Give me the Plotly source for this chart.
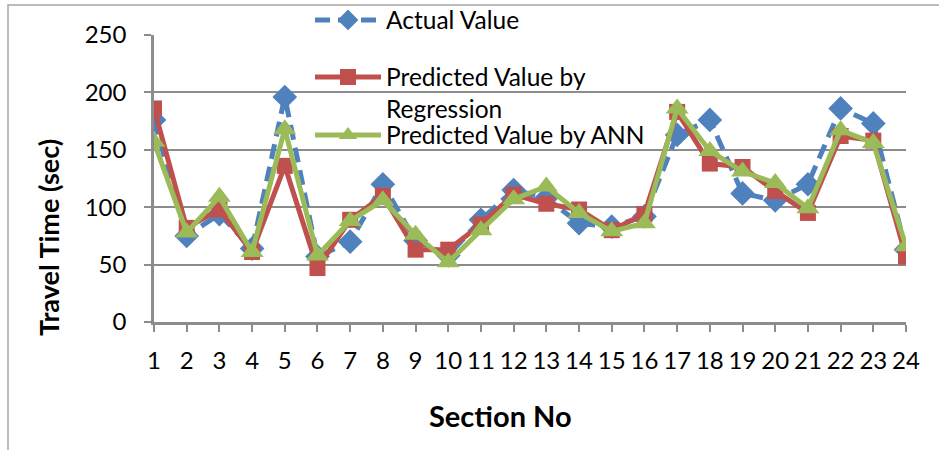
import plotly.graph_objects as go

# Section numbers along the road corridor
sections = list(range(1, 25))

# Observed travel time per section (sec)
actual = [176, 75, 94, 64, 196, 57, 70, 120, 71, 58, 89, 115, 108, 86, 83, 92,
          163, 176, 112, 106, 120, 186, 173, 63]

# Travel time predicted by the regression model (sec)
regression = [186, 82, 98, 61, 136, 47, 89, 110, 63, 63, 85, 111, 103, 98, 80, 94,
              183, 138, 135, 114, 95, 162, 158, 57]

# Travel time predicted by the neural network (sec)
ann = [157, 78, 109, 61, 168, 58, 88, 106, 76, 52, 80, 107, 118, 95, 79, 86,
       186, 149, 131, 121, 99, 167, 156, 66]

y_ticks = [0, 50, 100, 150, 200, 250]

BLUE = "#4F81BD"
RED = "#C0504D"
GREEN = "#9BBB59"
GRID = "#8C8C8C"
FONT = "Lato"

fig = go.Figure()

fig.add_trace(go.Scatter(
    x=sections, y=actual, name="Actual Value", mode="lines+markers",
    line=dict(color=BLUE, width=5, dash="15px,8px"),
    marker=dict(symbol="diamond", size=19, color=BLUE),
    legend="legend",
))
fig.add_trace(go.Scatter(
    x=sections, y=regression, name="Predicted Value by<br>Regression",
    mode="lines+markers",
    line=dict(color=RED, width=5),
    marker=dict(symbol="square", size=16, color=RED),
    legend="legend2",
))
fig.add_trace(go.Scatter(
    x=sections, y=ann, name="Predicted Value by ANN", mode="lines+markers",
    line=dict(color=GREEN, width=5),
    marker=dict(symbol="triangle-up", size=20, color=GREEN),
    legend="legend3",
))

legend_common = dict(
    bgcolor="rgba(0,0,0,0)", font=dict(family=FONT, size=24.5, color="black"),
    xanchor="left", yanchor="middle", itemwidth=66, valign="top",
    tracegroupgap=0,
)
x_leg = (310 - 154) / 752

fig.update_layout(
    width=939, height=450,
    margin=dict(l=154, r=33, t=35, b=128, autoexpand=False),
    paper_bgcolor="white", plot_bgcolor="white",
    font=dict(family=FONT, size=24, color="black"),
    showlegend=True,
    legend=dict(x=x_leg, y=(322 - 20) / 287, **legend_common),
    legend2=dict(x=x_leg, y=(322 - 93) / 287, **legend_common),
    legend3=dict(x=x_leg, y=(322 - 135) / 287, **legend_common),
    xaxis=dict(
        range=[1, 24], tickmode="array", tickvals=sections,
        ticktext=[str(s) for s in sections],
        showgrid=False, zeroline=False,
        showline=True, linecolor=GRID, linewidth=2.5,
        ticks="outside", ticklen=7, tickwidth=2, tickcolor=GRID,
        ticklabelstandoff=8,
        tickfont=dict(family=FONT, size=24, color="black"),
    ),
    yaxis=dict(
        range=[0, 250], tickmode="array", tickvals=y_ticks,
        showgrid=True, gridcolor=GRID, gridwidth=2,
        zeroline=False,
        showline=True, linecolor=GRID, linewidth=2.5,
        ticks="outside", ticklen=7, tickwidth=2, tickcolor=GRID,
        ticklabelstandoff=13,
        tickfont=dict(family=FONT, size=24, color="black"),
    ),
    annotations=[
        dict(text="<b>Travel Time (sec)</b>", textangle=-90,
             xref="paper", yref="paper",
             x=(48 - 154) / 752, y=(322 - 238) / 287,
             xanchor="center", yanchor="middle", showarrow=False,
             font=dict(family=FONT, size=27, color="black")),
        dict(text="<b>Section No</b>",
             xref="paper", yref="paper",
             x=(500 - 154) / 752, y=(322 - 415) / 287,
             xanchor="center", yanchor="middle", showarrow=False,
             font=dict(family=FONT, size=29, color="black")),
    ],
    shapes=[
        dict(type="rect", xref="paper", yref="paper", layer="below",
             x0=(8 - 154) / 752, y0=(322 - 470) / 287,
             x1=(960 - 154) / 752, y1=(322 - 5) / 287,
             line=dict(color="#A6A6A6", width=1.5), fillcolor="rgba(0,0,0,0)"),
    ],
)

fig.write_html("out.html", config={"displayModeBar": False})
